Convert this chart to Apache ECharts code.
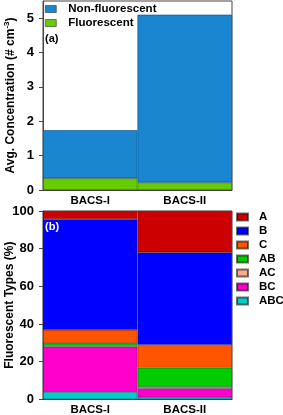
<!DOCTYPE html>
<html><head><meta charset="utf-8">
<script src="https://cdn.jsdelivr.net/npm/echarts@6/dist/echarts.min.js"></script>
<style>html,body{margin:0;padding:0;background:#fff}#c{width:283px;height:415px}</style>
</head><body><div id="c"></div>
<script>
const categories = ['BACS-I', 'BACS-II'];
// Panel (a): average concentration (# cm^-3)
const fluorescent = [0.34, 0.22];
const nonFluorescent = [1.40, 4.88];
// Panel (b): fluorescent types (%)
const typeNames = ['ABC', 'BC', 'AC', 'AB', 'C', 'B', 'A'];
const ABC = [3.9, 1.1];
const BC = [24.1, 4.7];
const AC = [0.5, 0.9];
const AB = [1.4, 10.1];
const C = [7.0, 12.1];
const B = [58.8, 49.1];
const A = [4.3, 22.0];
const yTicksA = [0, 1, 2, 3, 4, 5];
const yTicksB = [0, 20, 40, 60, 80, 100];

const typeData = {ABC, BC, AC, AB, C, B, A};
const typeColors = {A:'#cc0000', B:'#0000ff', C:'#ff5500', AB:'#00cc00', AC:'#ffaa88', BC:'#ff00cc', ABC:'#00cccc'};
const FF = "'Liberation Sans', Arial, sans-serif";

const chart = echarts.init(document.getElementById('c'));
const axisLbl = {color:'#000', fontWeight:'bold', fontSize:13, fontFamily:FF, margin:9};
const xLbl = {color:'#000', fontWeight:'bold', fontSize:11.5, fontFamily:FF, margin:5};
const bord = {borderColor:'rgba(0,0,0,0.55)', borderWidth:0.6};

const series = [
  {name:'Fluorescent', type:'bar', stack:'a', xAxisIndex:0, yAxisIndex:0, barCategoryGap:'0%', data:fluorescent, itemStyle:Object.assign({color:'#66cc00'}, bord)},
  {name:'Non-fluorescent', type:'bar', stack:'a', xAxisIndex:0, yAxisIndex:0, barCategoryGap:'0%', data:nonFluorescent, itemStyle:{color:'#1a86cf', borderColor:'#0a4a80', borderWidth:0.6}}
];
typeNames.forEach(n => series.push({name:n, type:'bar', stack:'b', xAxisIndex:1, yAxisIndex:1, barCategoryGap:'0%', data:typeData[n], itemStyle:Object.assign({color:typeColors[n]}, bord)}));

const legTxt = {fontSize:11.5, fontWeight:'bold', fontFamily:FF, color:'#000', lineHeight:14};

chart.setOption({
  animation:false,
  grid:[
    {left:43, right:51, top:1, height:189, show:true, borderColor:'#444', borderWidth:1, backgroundColor:'#fff', containLabel:false, outerBoundsMode:'none'},
    {left:43, right:51, top:211, height:188.3, show:true, borderColor:'#444', borderWidth:1, backgroundColor:'#fff', containLabel:false, outerBoundsMode:'none'}
  ],
  xAxis:[
    {type:'category', gridIndex:0, data:categories, axisTick:{show:false}, axisLine:{lineStyle:{color:'#444'}}, axisLabel:xLbl},
    {type:'category', gridIndex:1, data:categories, axisTick:{show:false}, axisLine:{lineStyle:{color:'#444'}}, axisLabel:xLbl}
  ],
  yAxis:[
    {type:'value', gridIndex:0, min:0, max:5.5, interval:1, splitLine:{show:false},
     axisLine:{show:true, lineStyle:{color:'#444'}}, axisTick:{show:true, length:4, lineStyle:{color:'#444'}},
     axisLabel:Object.assign({showMaxLabel:false, formatter:v => yTicksA.includes(v) ? String(v) : ''}, axisLbl),
     name:'{a|Avg. Concentration (# cm}{s|-3}{a|)}', nameLocation:'middle', nameGap:24, nameMoveOverlap:false,
     nameTextStyle:{rich:{a:{fontSize:12, fontWeight:'bold', fontFamily:FF, color:'#000'}, s:{fontSize:8, fontWeight:'bold', fontFamily:FF, color:'#000', verticalAlign:'top', padding:[0,0,8,0]}}}},
    {type:'value', gridIndex:1, min:0, max:100, interval:20, splitLine:{show:false},
     axisLine:{show:true, lineStyle:{color:'#444'}}, axisTick:{show:true, length:4, lineStyle:{color:'#444'}},
     axisLabel:Object.assign({formatter:v => yTicksB.includes(v) ? String(v) : ''}, axisLbl),
     name:'Fluorescent Types (%)', nameLocation:'middle', nameGap:27, nameMoveOverlap:false,
     nameTextStyle:{fontSize:12, fontWeight:'bold', fontFamily:FF, color:'#000'}}
  ],
  legend:[
    {data:['Non-fluorescent','Fluorescent'], orient:'vertical', left:44, top:1, itemWidth:11, itemHeight:7, itemGap:0,
     icon:'rect', padding:[1,4,1,1],
     itemStyle:{borderColor:'#333', borderWidth:0.6},
     textStyle:Object.assign({padding:[0,0,0,7]}, legTxt)},
    {data:['A','B','C','AB','AC','BC','ABC'], orient:'vertical', left:235, top:210, itemWidth:11, itemHeight:7, itemGap:0,
     icon:'rect', padding:[0,0,0,1],
     textStyle:Object.assign({padding:[0,0,0,6]}, legTxt)}
  ],
  graphic:[
    {type:'text', left:45, top:33, z:100, style:{text:'(a)', font:"bold 11px 'Liberation Sans', Arial", fill:'#000'}},
    {type:'text', left:45, top:221, z:100, style:{text:'(b)', font:"bold 11px 'Liberation Sans', Arial", fill:'#fff'}}
  ],
  series
});
</script></body></html>
